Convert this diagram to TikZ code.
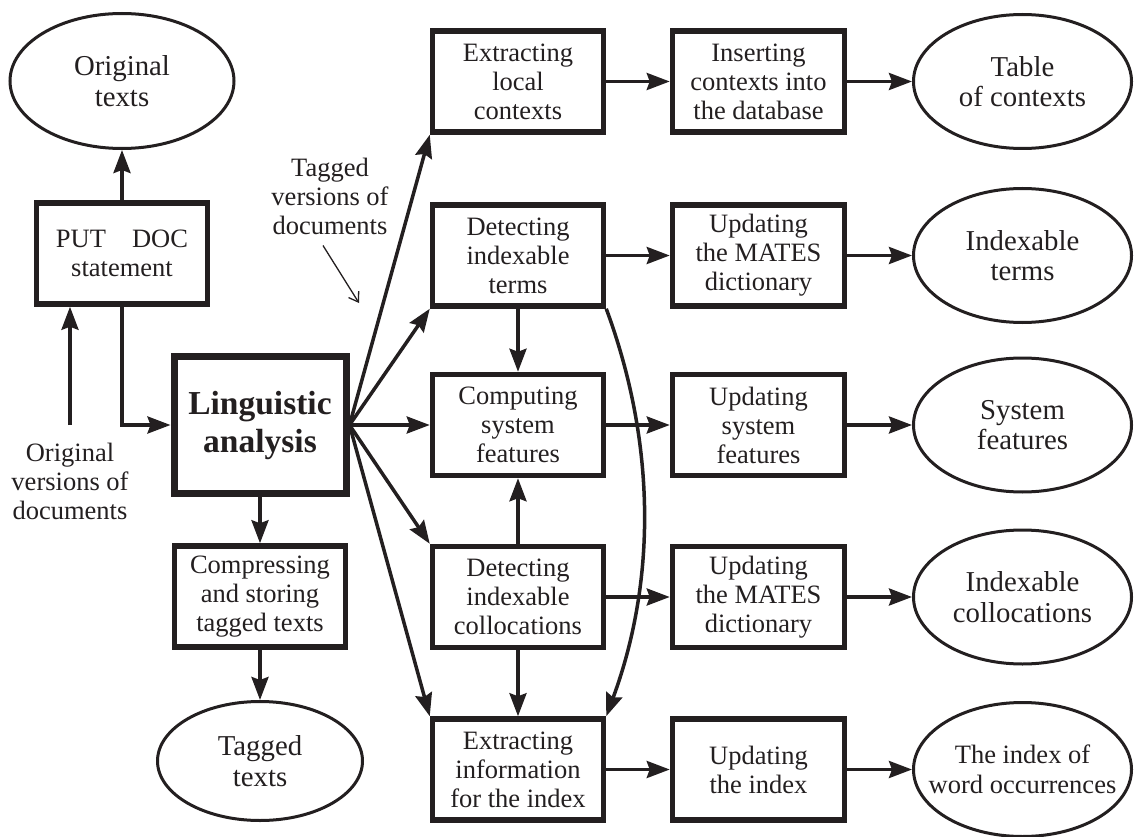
\documentclass[tikz,border=0pt]{standalone}
\usepackage{fontspec}
\setmainfont{Liberation Serif}
\usepackage{tikz}
\usetikzlibrary{arrows.meta, positioning, shapes, calc}

\definecolor{ink}{RGB}{35,31,32}

\begin{document}
\begin{tikzpicture}[x=1pt, y=-1pt, ink,
    font=\fontsize{26.5}{29}\selectfont,
    box/.style={draw, rectangle, line width=5.5pt, align=center, minimum width=171pt, minimum height=101pt, inner sep=3pt},
    bigbox/.style={box, line width=7pt, minimum width=172pt, minimum height=137pt, font=\fontsize{33.5}{38}\selectfont\bfseries},
    oval/.style={draw, ellipse, line width=3pt, align=center, minimum width=218pt, minimum height=134pt, inner xsep=-40pt, font=\fontsize{28.8}{30.5}\selectfont},
    note/.style={align=center, inner sep=3pt},
    arr/.style={-{Stealth[length=23pt, width=17pt, inset=3pt]}, line width=3.5pt},
    pointer/.style={-{Straight Barb[length=9pt, width=12pt]}, line width=1.3pt}]
    \useasboundingbox (0,0) rectangle (1135,837);

    % Input side
    \node[oval, minimum width=224pt, minimum height=135pt] (orig) at (122,81) {Original\\texts};
    \node[box] (put) at (122,253.5) {PUT\hspace{26pt}DOC\\statement};
    \node[bigbox] (ling) at (260,425) {Linguistic\\analysis};
    \node[box] (compr) at (260,596.5) {Compressing\\and storing\\tagged texts};
    \node[oval, minimum width=205pt, minimum height=119pt] (tagged) at (260,761) {Tagged\\texts};
    \node[note] (origver) at (70,481) {Original\\versions of\\documents};
    \node[note] (tagver) at (330,196) {Tagged\\versions of\\documents};

    % Processing rows
    \foreach \i/\y/\fs/\task/\upd/\res in {
        1/81.5/28.8/{Extracting\\local\\contexts}/{Inserting\\contexts into\\the database}/{Table\\of contexts},
        2/255.5/28.8/{Detecting\\indexable\\terms}/{Updating\\the MATES\\dictionary}/{Indexable\\terms},
        3/425/28.8/{Computing\\system\\features}/{Updating\\system\\features}/{System\\features},
        4/597/28.8/{Detecting\\indexable\\collocations}/{Updating\\the MATES\\dictionary}/{Indexable\\collocations},
        5/769.5/26.5/{Extracting\\information\\for the index}/{Updating\\the index}/{The index of\\word occurrences}} {
        \node[box] (task\i) at (518,\y) {\task};
        \node[box, minimum width=172pt] (update\i) at (758.5,\y) {\upd};
        \node[oval, font=\fontsize{\fs}{30.5}\selectfont] (store\i) at (1022.5,\y) {\res};
        \draw[arr] (task\i) -- (update\i);
        \draw[arr] (update\i) -- (store\i);
    }

    % Links on the left
    \coordinate (upstart) at (70,425);
    \draw[arr] (upstart) -- (upstart |- put.south);
    \draw[arr] (put) -- (orig);
    \draw[arr] (put.south) |- (ling.west);
    \draw[arr] (ling) -- (compr);
    \draw[arr] (compr) -- (tagged);

    % Fan out of the analysis
    \foreach \i/\a in {1/south west, 2/south west, 3/west, 4/north west, 5/north west}
        \draw[arr] (ling.east) -- (task\i.\a);

    % Links between tasks
    \draw[arr] (task2) -- (task3);
    \draw[arr] (task4) -- (task3);
    \draw[arr] (task4) -- (task5);
    \draw[arr] (task2.south east) .. controls +(50,135) and +(50,-135) .. (task5.north east);

    % Label pointer
    \coordinate (tagtip) at (359,303);
    \draw[pointer] ([xshift=-7pt, yshift=-8pt]tagver.south) -- (tagtip);
\end{tikzpicture}
\end{document}
